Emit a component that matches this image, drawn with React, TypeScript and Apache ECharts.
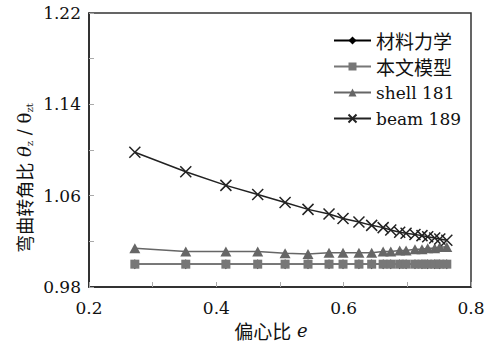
import React, { useEffect, useRef } from "react";
import * as echarts from "echarts";

const ecc = [0.272, 0.352, 0.415, 0.465, 0.508, 0.544, 0.577, 0.599, 0.624, 0.644, 0.662, 0.674, 0.688, 0.698, 0.712, 0.723, 0.732, 0.743, 0.751, 0.762];
const mech = [1.0, 1.0, 1.0, 1.0, 1.0, 1.0, 1.0, 1.0, 1.0, 1.0, 1.0, 1.0, 1.0, 1.0, 1.0, 1.0, 1.0, 1.0, 1.0, 1.0];
const model = [1.0, 1.0, 1.0, 1.0, 1.0, 1.0, 1.0, 1.0, 1.0, 1.0, 1.0, 1.0, 1.0, 1.0, 1.0, 1.0, 1.0, 1.0, 1.0, 1.0];
const shell = [1.014, 1.011, 1.011, 1.011, 1.0095, 1.009, 1.01, 1.01, 1.01, 1.01, 1.011, 1.011, 1.012, 1.012, 1.013, 1.013, 1.014, 1.014, 1.015, 1.015];
const beam = [1.098, 1.081, 1.069, 1.061, 1.054, 1.048, 1.044, 1.04, 1.037, 1.034, 1.032, 1.03, 1.028, 1.027, 1.026, 1.025, 1.024, 1.023, 1.022, 1.021];
const seriesNames = ["材料力学", "本文模型", "shell 181", "beam 189"];

const FONT = "DejaVu Serif, Noto Sans CJK SC, serif";
const CJK = "Noto Sans CJK SC";

export default function App() {
  const ref = useRef<HTMLDivElement>(null);
  useEffect(() => {
    if (!ref.current) return;
    const chart = echarts.init(ref.current, null, { renderer: "svg" });
    const pair = (ys: number[]) => ecc.map((x, i) => [x, ys[i]]);
    chart.setOption({
      animation: false,
      backgroundColor: "#fff",
      textStyle: { fontFamily: FONT },
      grid: { left: 89, right: 25, top: 13, bottom: 59, show: true, borderColor: "#333", borderWidth: 1.5 },
      legend: {
        orient: "vertical",
        left: 328,
        top: 25,
        itemWidth: 37,
        itemHeight: 10,
        itemGap: 5,
        formatter: (name: string) => (/[\u4e00-\u9fff]/.test(name) ? `{c|${name}}` : name),
        textStyle: {
          fontFamily: FONT,
          fontSize: 17,
          color: "#111",
          lineHeight: 21,
          rich: { c: { fontFamily: CJK, fontSize: 19, color: "#111", lineHeight: 21 } },
        },
        data: seriesNames,
      },
      xAxis: {
        type: "value",
        min: 0.2,
        max: 0.8,
        interval: 0.1,
        axisLine: { show: true, lineStyle: { color: "#222", width: 1.5 } },
        axisTick: { show: true, inside: true, length: 5, lineStyle: { color: "#aaa" } },
        splitLine: { show: false },
        axisLabel: {
          fontFamily: FONT,
          fontSize: 17,
          color: "#111",
          margin: 12,
          formatter: (v: number) => (Math.round(v * 10) % 2 === 0 ? v.toFixed(1) : ""),
        },
      },
      yAxis: {
        type: "value",
        min: 0.98,
        max: 1.22,
        interval: 0.04,
        axisLine: { show: true, lineStyle: { color: "#222", width: 1.5 } },
        axisTick: { show: true, inside: true, length: 5, lineStyle: { color: "#aaa" } },
        splitLine: { show: false },
        axisLabel: {
          fontFamily: FONT,
          fontSize: 17,
          color: "#111",
          margin: 8,
          formatter: (v: number) => (Math.round((v - 0.98) / 0.04) % 2 === 0 ? v.toFixed(2) : ""),
        },
      },
      graphic: [
        {
          type: "text",
          x: 24,
          y: 178,
          rotation: Math.PI / 2,
          style: {
            text: "{c|弯曲转角比} {it|θ}{sub|z} / θ{sub|zt}",
            fontFamily: FONT,
            fontSize: 18,
            fill: "#111",
            align: "center",
            verticalAlign: "middle",
            rich: {
              c: { fontFamily: CJK, fontSize: 18, fill: "#111" },
              it: { fontFamily: FONT, fontSize: 18, fontStyle: "italic", fill: "#111" },
              sub: { fontFamily: FONT, fontSize: 10, fill: "#111", padding: [10, 0, 0, 0] },
            },
          },
        },
        {
          type: "text",
          x: 271,
          y: 330,
          style: {
            text: "{c|偏心比} {it|e}",
            fontFamily: FONT,
            fontSize: 18,
            fill: "#111",
            align: "center",
            verticalAlign: "middle",
            rich: {
              c: { fontFamily: CJK, fontSize: 19, fill: "#111" },
              it: { fontFamily: FONT, fontSize: 18, fontStyle: "italic", fill: "#111" },
            },
          },
        },
      ],
      series: [
        {
          name: seriesNames[0],
          type: "line",
          data: pair(mech),
          symbol: "diamond",
          symbolSize: [7, 10],
          itemStyle: { color: "#000" },
          lineStyle: { color: "#000", width: 1.5 },
        },
        {
          name: seriesNames[1],
          type: "line",
          data: pair(model),
          symbol: "rect",
          symbolSize: 9,
          itemStyle: { color: "#777" },
          lineStyle: { color: "#777", width: 1.5 },
        },
        {
          name: seriesNames[2],
          type: "line",
          data: pair(shell),
          symbol: "triangle",
          symbolSize: [11, 10],
          itemStyle: { color: "#666" },
          lineStyle: { color: "#666", width: 1.5 },
        },
        {
          name: seriesNames[3],
          type: "line",
          data: pair(beam),
          symbol: "path://M0,0L10,10M10,0L0,10",
          symbolSize: 11,
          itemStyle: { color: "#222", borderColor: "#222", borderWidth: 1.5 },
          lineStyle: { color: "#222", width: 1.5 },
        },
      ],
    });
    return () => chart.dispose();
  }, []);
  return (
    <div
      ref={ref}
      style={{ position: "absolute", left: 0, top: 0, width: 496, height: 346, background: "#fff" }}
    />
  );
}
